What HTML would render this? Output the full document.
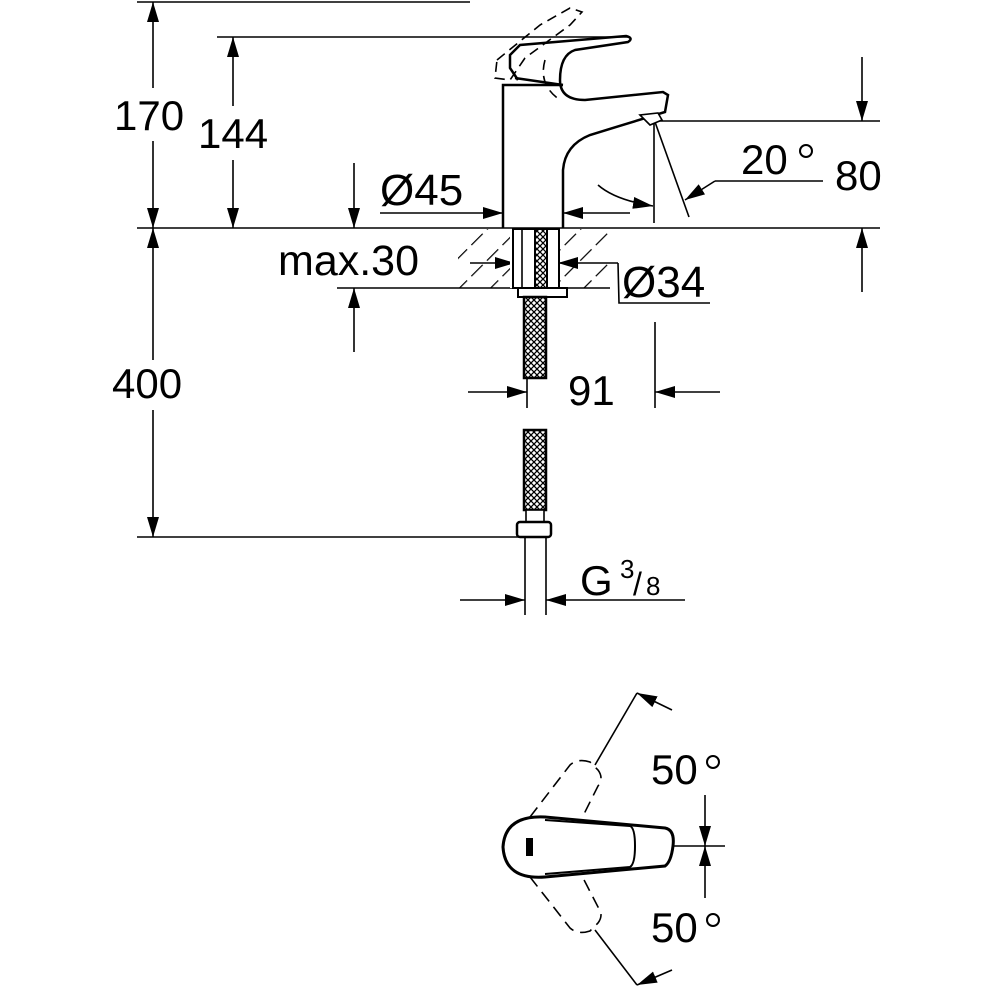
<!DOCTYPE html>
<html><head><meta charset="utf-8"><style>
html,body{margin:0;padding:0;background:#fff}
svg{display:block}
text{font-family:"Liberation Sans",Arial,sans-serif;fill:#000}
</style></head><body>
<svg width="1000" height="1000" viewBox="0 0 1000 1000" xmlns="http://www.w3.org/2000/svg">
<defs>
<marker id="a" viewBox="0 0 20 12" refX="20" refY="6" markerWidth="20" markerHeight="12" markerUnits="userSpaceOnUse" orient="auto"><path d="M0,0 L20,6 L0,12z" fill="#000"/></marker>
<pattern id="h" width="22" height="22" patternUnits="userSpaceOnUse" patternTransform="rotate(45)"><line x1="0" y1="0" x2="0" y2="22" stroke="#000" stroke-width="2.4" stroke-dasharray="16 6"/></pattern>
<pattern id="m" width="6" height="6" patternUnits="userSpaceOnUse"><path d="M0,0 L6,6 M6,0 L0,6" stroke="#000" stroke-width="1.3"/></pattern>
</defs>
<g stroke="#000" stroke-width="1.6" fill="none">
<line x1="137" y1="2" x2="470" y2="2"/>
<line x1="217" y1="37" x2="630" y2="37"/>
<line x1="137" y1="228" x2="880" y2="228"/>
<line x1="137" y1="537" x2="522" y2="537"/>
<line x1="337" y1="288" x2="610" y2="288"/>
<line x1="655" y1="121" x2="880" y2="121"/>
<line x1="153" y1="88" x2="153" y2="2" marker-end="url(#a)"/>
<line x1="153" y1="141" x2="153" y2="228" marker-end="url(#a)"/>
<line x1="233" y1="106" x2="233" y2="37" marker-end="url(#a)"/>
<line x1="233" y1="160" x2="233" y2="228" marker-end="url(#a)"/>
<line x1="153" y1="360" x2="153" y2="228" marker-end="url(#a)"/>
<line x1="153" y1="410" x2="153" y2="537" marker-end="url(#a)"/>
<line x1="354" y1="163" x2="354" y2="228" marker-end="url(#a)"/>
<line x1="354" y1="352" x2="354" y2="288" marker-end="url(#a)"/>
<line x1="862" y1="57" x2="862" y2="121" marker-end="url(#a)"/>
<line x1="862" y1="292" x2="862" y2="228" marker-end="url(#a)"/>
<line x1="380" y1="213" x2="503" y2="213" marker-end="url(#a)"/>
<line x1="630" y1="213" x2="563" y2="213" marker-end="url(#a)"/>
<line x1="470" y1="263" x2="515" y2="263" marker-end="url(#a)"/>
<line x1="618" y1="263" x2="558" y2="263" marker-end="url(#a)"/>
<polyline points="618,263 619,303 710,303"/>
<line x1="468" y1="392" x2="527" y2="392" marker-end="url(#a)"/>
<line x1="720" y1="392" x2="655" y2="392" marker-end="url(#a)"/>
<line x1="655" y1="322" x2="655" y2="408"/>
<line x1="527" y1="378" x2="527" y2="408"/>
<line x1="460" y1="600" x2="525" y2="600" marker-end="url(#a)"/>
<line x1="685" y1="600" x2="546" y2="600" marker-end="url(#a)"/>
<line x1="525" y1="537" x2="525" y2="615"/>
<line x1="546" y1="537" x2="546" y2="615"/>
<line x1="654" y1="121" x2="654" y2="223"/>
<line x1="655" y1="122" x2="689" y2="217"/>
<polyline points="823,181 715,181"/>
<line x1="715" y1="181" x2="685" y2="200" marker-end="url(#a)"/>
<path d="M598,185 Q615,200 653,206" marker-end="url(#a)"/>
<rect x="458" y="229" width="150" height="59" fill="url(#h)" stroke="none"/>
<rect x="510" y="229" width="50" height="59" fill="#fff" stroke="none"/>
<rect x="513" y="229" width="46" height="59" fill="#fff" stroke-width="2"/>
<line x1="522" y1="229" x2="522" y2="288"/>
<rect x="535" y="229" width="12" height="59" fill="url(#m)" stroke-width="2"/>
<rect x="518" y="288" width="49" height="9" fill="#fff" stroke-width="2"/>
<rect x="524" y="297" width="22" height="81" fill="url(#m)" stroke-width="2.5"/>
<rect x="524" y="430" width="22" height="80" fill="url(#m)" stroke-width="2.5"/>
<rect x="526" y="510" width="18" height="12" fill="#fff"/>
<rect x="517" y="522" width="34" height="15" rx="3" fill="#fff" stroke-width="2.5"/>
<g stroke-width="2.5">
<path d="M503,228 L503,85 L563,85"/>
<path d="M563,228 L563,170 Q565,145 590,135 L665,112 L668,95 L663,92 L585,100 Q560,100 560,80 Q560,55 575,50 L628,42 Q634,38 626,36 L520,45 L510,55 L510,68 L518,80"/>
<path d="M563,85 L515,78"/>
<path d="M640,115 L650,125 L662,120 L658,113z" fill="#fff" stroke-width="1.6"/>
</g>
<g stroke-dasharray="10 6">
<path d="M497,60 L540,25 L570,8 L582,12 L570,25 L525,58 L510,80 L495,78 Z"/>
<path d="M545,60 Q538,85 560,100"/>
</g>
<line x1="637" y1="693" x2="595" y2="765"/>
<line x1="595" y1="930" x2="637" y2="985"/>
<line x1="672" y1="710" x2="637" y2="693" marker-end="url(#a)"/>
<line x1="672" y1="970" x2="637" y2="985" marker-end="url(#a)"/>
<line x1="635" y1="846" x2="725" y2="846"/>
<line x1="705" y1="795" x2="705" y2="846" marker-end="url(#a)"/>
<line x1="705" y1="898" x2="705" y2="846" marker-end="url(#a)"/>
<g stroke-dasharray="12 7">
<path d="M530,817 L570,765 Q578,758 590,762 L598,770 Q604,778 598,786 L582,818"/>
<path d="M530,877 L570,928 Q578,935 590,931 L598,923 Q604,915 598,907 L582,876"/>
</g>
<path d="M545,817 L665,828 Q675,830 673,846 Q671,862 665,866 L545,877 Q505,880 503,847 Q505,815 545,817Z" fill="#fff" stroke-width="3"/>
<path d="M545,820 L630,826 Q635,828 635,846 Q635,864 630,867 L545,874" stroke-width="2"/>
<rect x="526" y="838" width="7" height="18" fill="#000" stroke="none"/>
<circle cx="806" cy="151" r="6" stroke-width="2"/>
<circle cx="713" cy="762" r="6" stroke-width="2"/>
<circle cx="713" cy="920" r="6" stroke-width="2"/>
</g>
<g font-size="42">
<text x="114" y="130">170</text>
<text x="198" y="148">144</text>
<text x="112" y="398">400</text>
<text x="278" y="275" font-size="43">max.30</text>
<text x="380" y="205" font-size="44">Ø45</text>
<text x="622" y="297" font-size="44">Ø34</text>
<text x="741" y="174">20</text>
<text x="835" y="190">80</text>
<text x="568" y="405">91</text>
<text x="580" y="595">G</text>
<text x="620" y="578" font-size="26">3</text>
<text x="633" y="595" font-size="32">/</text>
<text x="646" y="595" font-size="26">8</text>
<text x="651" y="784">50</text>
<text x="651" y="942">50</text>
</g>
</svg>
</body></html>
